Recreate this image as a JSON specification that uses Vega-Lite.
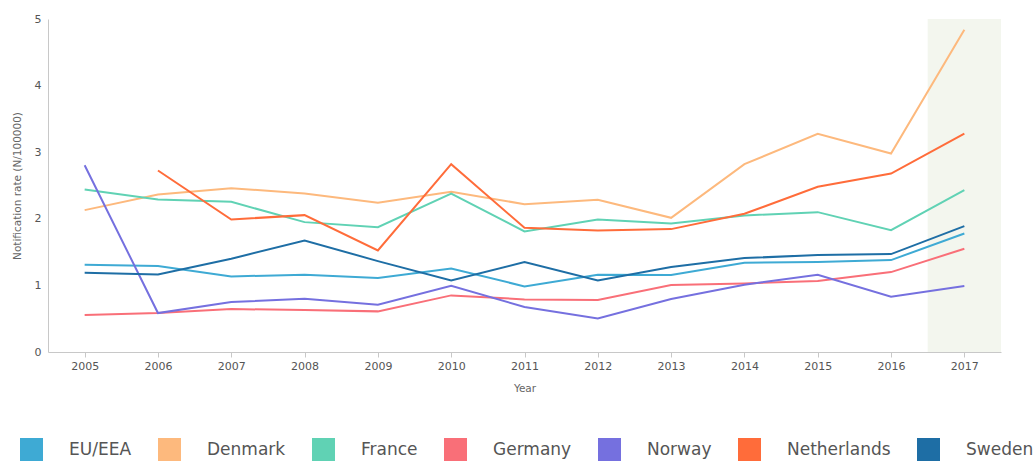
{
  "$schema": "https://vega.github.io/schema/vega-lite/v6.json",
  "width": 953,
  "height": 333,
  "autosize": {"type": "none"},
  "padding": {"left": 48, "top": 19, "right": 33, "bottom": 109},
  "background": "white",
  "config": {
    "font": "DejaVu Sans",
    "view": {"stroke": null},
    "axis": {"grid": false, "domainColor": "#c8c8c8", "tickColor": "#c8c8c8", "labelColor": "#555555", "titleColor": "#666666", "labelFontSize": 11, "titleFontSize": 10.5, "titleFontWeight": "normal"}
  },
  "datasets": {
    "rates": [
      {"country": "EU/EEA", "year": 2005, "rate": 1.31}, {"country": "EU/EEA", "year": 2006, "rate": 1.29}, {"country": "EU/EEA", "year": 2007, "rate": 1.135}, {"country": "EU/EEA", "year": 2008, "rate": 1.16}, {"country": "EU/EEA", "year": 2009, "rate": 1.11}, {"country": "EU/EEA", "year": 2010, "rate": 1.255}, {"country": "EU/EEA", "year": 2011, "rate": 0.985}, {"country": "EU/EEA", "year": 2012, "rate": 1.16}, {"country": "EU/EEA", "year": 2013, "rate": 1.155}, {"country": "EU/EEA", "year": 2014, "rate": 1.34}, {"country": "EU/EEA", "year": 2015, "rate": 1.35}, {"country": "EU/EEA", "year": 2016, "rate": 1.38}, {"country": "EU/EEA", "year": 2017, "rate": 1.78},
      {"country": "Denmark", "year": 2005, "rate": 2.13}, {"country": "Denmark", "year": 2006, "rate": 2.365}, {"country": "Denmark", "year": 2007, "rate": 2.46}, {"country": "Denmark", "year": 2008, "rate": 2.38}, {"country": "Denmark", "year": 2009, "rate": 2.24}, {"country": "Denmark", "year": 2010, "rate": 2.405}, {"country": "Denmark", "year": 2011, "rate": 2.22}, {"country": "Denmark", "year": 2012, "rate": 2.285}, {"country": "Denmark", "year": 2013, "rate": 2.015}, {"country": "Denmark", "year": 2014, "rate": 2.82}, {"country": "Denmark", "year": 2015, "rate": 3.275}, {"country": "Denmark", "year": 2016, "rate": 2.98}, {"country": "Denmark", "year": 2017, "rate": 4.84},
      {"country": "France", "year": 2005, "rate": 2.44}, {"country": "France", "year": 2006, "rate": 2.29}, {"country": "France", "year": 2007, "rate": 2.255}, {"country": "France", "year": 2008, "rate": 1.95}, {"country": "France", "year": 2009, "rate": 1.875}, {"country": "France", "year": 2010, "rate": 2.38}, {"country": "France", "year": 2011, "rate": 1.81}, {"country": "France", "year": 2012, "rate": 1.99}, {"country": "France", "year": 2013, "rate": 1.93}, {"country": "France", "year": 2014, "rate": 2.05}, {"country": "France", "year": 2015, "rate": 2.1}, {"country": "France", "year": 2016, "rate": 1.83}, {"country": "France", "year": 2017, "rate": 2.43},
      {"country": "Germany", "year": 2005, "rate": 0.555}, {"country": "Germany", "year": 2006, "rate": 0.585}, {"country": "Germany", "year": 2007, "rate": 0.645}, {"country": "Germany", "year": 2008, "rate": 0.63}, {"country": "Germany", "year": 2009, "rate": 0.61}, {"country": "Germany", "year": 2010, "rate": 0.85}, {"country": "Germany", "year": 2011, "rate": 0.79}, {"country": "Germany", "year": 2012, "rate": 0.78}, {"country": "Germany", "year": 2013, "rate": 1.005}, {"country": "Germany", "year": 2014, "rate": 1.03}, {"country": "Germany", "year": 2015, "rate": 1.065}, {"country": "Germany", "year": 2016, "rate": 1.2}, {"country": "Germany", "year": 2017, "rate": 1.55},
      {"country": "Norway", "year": 2005, "rate": 2.805}, {"country": "Norway", "year": 2006, "rate": 0.585}, {"country": "Norway", "year": 2007, "rate": 0.75}, {"country": "Norway", "year": 2008, "rate": 0.8}, {"country": "Norway", "year": 2009, "rate": 0.71}, {"country": "Norway", "year": 2010, "rate": 0.995}, {"country": "Norway", "year": 2011, "rate": 0.675}, {"country": "Norway", "year": 2012, "rate": 0.505}, {"country": "Norway", "year": 2013, "rate": 0.795}, {"country": "Norway", "year": 2014, "rate": 1.01}, {"country": "Norway", "year": 2015, "rate": 1.16}, {"country": "Norway", "year": 2016, "rate": 0.83}, {"country": "Norway", "year": 2017, "rate": 0.99},
      {"country": "Netherlands", "year": 2006, "rate": 2.725}, {"country": "Netherlands", "year": 2007, "rate": 1.99}, {"country": "Netherlands", "year": 2008, "rate": 2.055}, {"country": "Netherlands", "year": 2009, "rate": 1.525}, {"country": "Netherlands", "year": 2010, "rate": 2.82}, {"country": "Netherlands", "year": 2011, "rate": 1.865}, {"country": "Netherlands", "year": 2012, "rate": 1.825}, {"country": "Netherlands", "year": 2013, "rate": 1.845}, {"country": "Netherlands", "year": 2014, "rate": 2.075}, {"country": "Netherlands", "year": 2015, "rate": 2.48}, {"country": "Netherlands", "year": 2016, "rate": 2.68}, {"country": "Netherlands", "year": 2017, "rate": 3.28},
      {"country": "Sweden", "year": 2005, "rate": 1.19}, {"country": "Sweden", "year": 2006, "rate": 1.165}, {"country": "Sweden", "year": 2007, "rate": 1.4}, {"country": "Sweden", "year": 2008, "rate": 1.675}, {"country": "Sweden", "year": 2009, "rate": 1.365}, {"country": "Sweden", "year": 2010, "rate": 1.075}, {"country": "Sweden", "year": 2011, "rate": 1.35}, {"country": "Sweden", "year": 2012, "rate": 1.075}, {"country": "Sweden", "year": 2013, "rate": 1.275}, {"country": "Sweden", "year": 2014, "rate": 1.41}, {"country": "Sweden", "year": 2015, "rate": 1.455}, {"country": "Sweden", "year": 2016, "rate": 1.47}, {"country": "Sweden", "year": 2017, "rate": 1.89}
    ],
    "highlight": [{"from": 2016.5, "to": 2017.5}]
  },
  "layer": [
    {
      "data": {"name": "highlight"},
      "mark": {"type": "rect", "color": "#f3f6ee"},
      "encoding": {
        "x": {"field": "from", "type": "quantitative"},
        "x2": {"field": "to"},
        "y": {"datum": 5, "type": "quantitative"},
        "y2": {"datum": 0}
      }
    },
    {
      "data": {"name": "rates"},
      "mark": {"type": "line", "strokeWidth": 2},
      "encoding": {
        "x": {
          "field": "year", "type": "quantitative",
          "scale": {"domain": [2004.5, 2017.5], "nice": false, "zero": false},
          "axis": {"title": "Year", "values": [2005, 2006, 2007, 2008, 2009, 2010, 2011, 2012, 2013, 2014, 2015, 2016, 2017], "format": "d", "labelAngle": 0, "tickSize": 5, "labelPadding": 3, "titlePadding": 12, "labelFlush": false}
        },
        "y": {
          "field": "rate", "type": "quantitative",
          "scale": {"domain": [0, 5], "nice": false},
          "axis": {"title": "Notification rate (N/100000)", "values": [0, 1, 2, 3, 4, 5], "format": "d", "ticks": false, "labelPadding": 7, "titlePadding": 12}
        },
        "color": {
          "field": "country", "type": "nominal",
          "scale": {
            "domain": ["EU/EEA", "Denmark", "France", "Germany", "Norway", "Netherlands", "Sweden"],
            "range": ["#3eaad4", "#fdb97d", "#60d2b4", "#f96f78", "#7570df", "#ff6c3a", "#1e6ea5"]
          },
          "legend": {
            "title": null, "orient": "none", "direction": "horizontal",
            "legendX": -28, "legendY": 419,
            "symbolType": "square", "symbolSize": 529, "symbolStrokeWidth": 0, "symbolOpacity": 1,
            "labelFontSize": 17, "labelColor": "#555555", "labelOffset": 26, "columnPadding": 26,
            "labelLimit": 300,
            "encode": {"symbols": {"update": {"fill": {"scale": "color", "field": "value"}, "fillOpacity": {"value": 1}}}}
          }
        }
      }
    }
  ]
}
